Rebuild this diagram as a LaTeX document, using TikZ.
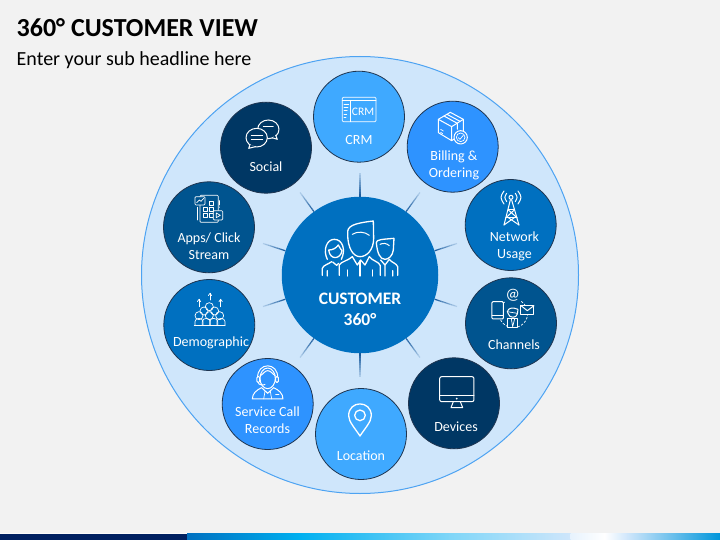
\documentclass[tikz,border=0pt]{standalone}
\usepackage{fontspec}
\setmainfont{Carlito}
\usetikzlibrary{calc}
\definecolor{pagebg}{HTML}{F2F2F2}
\definecolor{discfill}{HTML}{CFE6FB}
\definecolor{discline}{HTML}{4DA3F2}
\definecolor{cnavy}{HTML}{003764}
\definecolor{cdeep}{HTML}{00548F}
\definecolor{cmid}{HTML}{0070C0}
\definecolor{cbright}{HTML}{2E93FF}
\definecolor{csky}{HTML}{3FA9FF}
\definecolor{rimcol}{HTML}{1F3550}
\definecolor{spokedark}{HTML}{1B5C9E}
\definecolor{footnavy}{HTML}{002060}
\definecolor{footsky}{HTML}{00B0F0}
\definecolor{footlight}{HTML}{7FD6F8}
\definecolor{footend}{HTML}{0096DB}
\tikzset{
  disc/.style={circle,draw=discline,fill=discfill,line width=1pt,minimum size=437pt,inner sep=0pt},
  hubdisc/.style={circle,fill=cmid,minimum size=156.5pt,inner sep=0pt},
  sat/.style={circle,draw=rimcol,line width=.8pt,minimum size=91pt,inner sep=0pt},
  lab/.style={text=white,align=center,inner sep=0pt,yshift=-1pt,font=\fontsize{14}{17}\selectfont},
  icon/.style={draw=white,line width=1pt,line cap=round,line join=round},
  thin icon/.style={icon,line width=.7pt},
}
\newcommand{\barpart}[4]{\shade[left color=#3,right color=#4] (#1,533.6) rectangle (#2,540);}
\begin{document}
\begin{tikzpicture}[x=1pt,y=-1pt]
\useasboundingbox (0,0) rectangle (720,540);
\fill[pagebg] (0,0) rectangle (720,540);
% footer band
\fill[white,opacity=.7] (0,532.6) rectangle (388,533.6);
\fill[footnavy] (0,533.6) rectangle (187.5,540);
\barpart{187}{300}{cmid}{footsky}
\barpart{299.5}{450}{footsky}{footlight}
\barpart{449.5}{571}{footlight}{discfill}
\barpart{570.5}{605}{discfill!50!white}{white}
\barpart{604.5}{628}{white}{discfill}
\barpart{627.5}{720}{discfill}{footend}
% title
\node[anchor=base west,inner sep=0pt,font=\bfseries\fontsize{26}{30}\selectfont] (title) at (16.5,36.5) {360° CUSTOMER VIEW};
\node[anchor=base west,inner sep=0pt,font=\fontsize{20}{24}\selectfont] (subtitle) at (16.5,65.5) {Enter your sub headline here};
% disc
\node[disc] (outer) at (360,275) {};
\node[hubdisc] (hub) at (360,275) {};
% spokes
\foreach \a in {90,54,18,-18,-54,-90,-126,-162,162,126}{
  \coordinate (e\a) at ($(hub)+(\a:102pt)$);
  \foreach \i [evaluate=\i as \s using \i/10, evaluate=\i as \t using (\i+1)/10, evaluate=\i as \p using 100-\i*9] in {0,...,9}
    \draw[spokedark!\p!discfill,line width=1.2pt] ($(hub.\a)!\s!(e\a)$) -- ($(hub.\a)!\t!(e\a)$);
}
% satellites
\node[sat,fill=csky]    (crm)  at (359,116.7) {};
\node[sat,fill=cbright] (bill) at (452.7,146.7) {};
\node[sat,fill=cmid]    (net)  at (510.7,225) {};
\node[sat,fill=cdeep]   (chan) at (511,323.3) {};
\node[sat,fill=cnavy]   (dev)  at (454,403.3) {};
\node[sat,fill=csky]    (loc)  at (361,434) {};
\node[sat,fill=cbright] (serv) at (267.7,404) {};
\node[sat,fill=cmid]    (demo) at (209.3,325) {};
\node[sat,fill=cdeep]   (apps) at (209,227.3) {};
\node[sat,fill=cnavy]   (soc)  at (266,147.7) {};
% labels
\node[lab] (lcrm) at (359,139) {CRM};
\node[lab] (lbill) at (454,164.3) {Billing \&\\Ordering};
\node[lab] (lnet) at (514.5,245.3) {Network\\Usage};
\node[lab] (lchan) at (514,343.3) {Channels};
\node[lab] (ldev) at (456,425.3) {Devices};
\node[lab] (lloc) at (361,454.7) {Location};
\node[lab] (lserv) at (267.5,418.8) {Service Call\\Records};
\node[lab] (ldemo) at (211,341.8) {Demographic};
\node[lab] (lapps) at (209,245) {Apps/ Click\\Stream};
\node[lab] (lsoc) at (266,165.3) {Social};
\node[text=white,align=center,inner sep=0pt,font=\bfseries\fontsize{17.5}{21}\selectfont] (lhub) at (360,309) {CUSTOMER\\360°};
% --- icon: hub people
\begin{scope}[shift={(270,200)},x=.3333pt,y=-.3333pt]
 \draw[icon,line width=1.3pt] (233,102) .. controls (230,78) and (250,70) .. (310,63) -- (311,115) .. controls (311,150) and (290,170) .. (270,170) .. controls (250,170) and (233,145) .. (233,102);
 \draw[icon] (247,103) .. controls (262,93) and (285,95) .. (298,106);
 \draw[icon,line width=1.3pt] (208,226) -- (208,195) .. controls (212,185) and (235,182) .. (247,170) -- (262,195) -- (272,180) -- (285,195) -- (298,170) .. controls (305,182) and (328,185) .. (331,197) -- (331,226);
 \draw[icon,line width=1.3pt] (270,183) -- (270,228) (232,210) -- (232,228) (308,210) -- (308,228);
 % woman
 \draw[icon,line width=1.3pt] (172,178) .. controls (158,150) and (170,118) .. (193,118) .. controls (218,118) and (228,150) .. (214,178);
 \draw[icon,line width=1.3pt] (176,150) .. controls (188,150) and (198,145) .. (205,135) .. controls (210,145) and (214,150) .. (216,152) .. controls (212,178) and (180,182) .. (176,150);
 \draw[icon,line width=1.3pt] (157,226) -- (157,205) .. controls (160,195) and (175,193) .. (185,185) (172,212) -- (172,228);
 \draw[icon,line width=1.3pt] (188,186) -- (200,196) -- (206,190);
 % right man
 \draw[icon,line width=1.3pt] (319,128) .. controls (318,118) and (340,118) .. (372,115) -- (370,150) .. controls (368,168) and (355,178) .. (345,178) .. controls (330,178) and (322,160) .. (319,128);
 \draw[icon] (330,133) .. controls (340,128) and (350,130) .. (358,137);
 \draw[icon,line width=1.3pt] (332,180) -- (345,195) -- (358,178) .. controls (365,188) and (380,190) .. (383,200) -- (383,226) (345,195) -- (345,228) (368,212) -- (368,228);
\end{scope}
% --- icon: CRM
\begin{scope}[shift={(210,60)},x=.3333pt,y=-.3333pt]
 \draw[thin icon,rounded corners=1pt] (397,112) rectangle (498,185);
 \draw[thin icon] (420,122) -- (420,185) (397,122) -- (498,122);
 \draw[thin icon] (402,132) -- (416,132) (402,142) -- (414,142) (402,152) -- (412,152) (402,162) -- (410,162) (402,172) -- (408,172);
 \node[inner sep=0pt,text=white,font=\fontsize{11.5}{12}\selectfont] (tcrm) at (459,154) {CRM};
\end{scope}
% --- icon: Social
\begin{scope}[shift={(210,60)},x=.3333pt,y=-.3333pt]
 \draw[icon,fill=cnavy] (175,208) ellipse [x radius=32,y radius=28];
 \draw[icon,fill=cnavy] (186,233) -- (202,238) -- (197,226);
 \draw[thin icon] (160,198) -- (190,198);
 \draw[icon,fill=cnavy] (140,233) ellipse [x radius=32,y radius=28];
 \draw[icon,fill=cnavy] (120,254) -- (116,265) -- (136,260);
 \draw[thin icon] (124,227) -- (158,227) (124,238) -- (158,238);
\end{scope}
% --- icon: Billing
\begin{scope}[shift={(400,90)},x=.3333pt,y=-.3333pt]
 \draw[icon] (151,67) -- (190,88) -- (190,128) -- (155,152) -- (115,128) -- (115,88) -- cycle;
 \draw[icon] (115,88) -- (155,110) -- (190,88) (155,110) -- (155,152);
 \draw[icon] (132,78) -- (172,100) -- (172,118) (141,73) -- (180,94);
 \draw[thin icon] (122,118) -- (130,123) (122,127) -- (128,131);
 \draw[icon,fill=cbright] (182,142) circle (20);
 \draw[thin icon] (182,142) circle (13);
 \draw[thin icon] (175,143) -- (180,148) -- (190,136);
\end{scope}
% --- icon: Network
\begin{scope}[shift={(400,90)},x=.3333pt,y=-.3333pt]
 \draw[icon] (333,322) circle (6);
 \draw[icon] (320,310) .. controls (313,322) .. (320,335) (346,310) .. controls (353,322) .. (346,335);
 \draw[icon] (312,303) .. controls (300,322) .. (312,342) (354,303) .. controls (366,322) .. (354,342);
 \draw[icon] (331,330) -- (312,405) (335,330) -- (357,405);
 \draw[icon] (325,360) -- (343,360) (318,383) -- (351,383);
 \draw[icon] (312,405) -- (343,383) (357,405) -- (325,383) (318,383) -- (343,360) (351,383) -- (325,360);
\end{scope}
% --- icon: Channels
\begin{scope}[shift={(400,270)},x=.3333pt,y=-.3333pt]
 \draw[thin icon,dash pattern=on 2pt off 2pt] (340,130) circle (43);
 \draw[icon,fill=cdeep,rounded corners=1pt] (276,95) rectangle (310,147);
 \draw[thin icon] (276,135) -- (310,135);
 \node[inner sep=.5pt,fill=cdeep,text=white,font=\fontsize{16}{16}\selectfont] (tat) at (338,75) {@};
 \draw[icon,fill=cdeep] (363,107) rectangle (402,133);
 \draw[icon] (363,107) -- (382,122) -- (402,107);
 \draw[icon,fill=cdeep] (323,145) rectangle (353,172);
 \draw[icon,fill=cdeep] (322,125) .. controls (325,112) and (340,112) .. (354,118) -- (352,132) .. controls (350,145) and (328,145) .. (325,132) -- cycle;
 \draw[thin icon] (322,125) -- (352,130) (334,146) -- (338,170) -- (344,146);
\end{scope}
% --- icon: Devices
\begin{scope}[shift={(400,270)},x=.3333pt,y=-.3333pt]
 \draw[icon,rounded corners=2pt] (119,320) rectangle (222,395);
 \draw[icon] (119,378) -- (222,378);
 \draw[icon] (160,395) -- (153,413) -- (188,413) -- (181,395);
 \fill[white] (170,386) circle (3);
\end{scope}
% --- icon: Location
\begin{scope}[shift={(215,350)},x=.3333pt,y=-.3333pt]
 \draw[icon,line width=1.3pt] (435,258) .. controls (420,235) and (401,215) .. (401,197) .. controls (401,150) and (469,150) .. (469,197) .. controls (469,215) and (450,235) .. (435,258) -- cycle;
 \draw[icon,line width=1.3pt] (435,196) circle (16);
\end{scope}
% --- icon: Service
\begin{scope}[shift={(215,350)},x=.3333pt,y=-.3333pt]
 \draw[icon] (158,85) ellipse [x radius=23,y radius=31];
 \draw[icon] (135,78) .. controls (145,72) and (150,62) .. (158,62) .. controls (168,62) and (172,72) .. (181,78);
 \draw[icon] (128,85) .. controls (125,35) and (191,35) .. (188,85);
 \draw[icon,fill=cbright,rounded corners=1pt] (126,80) rectangle (134,97);
 \draw[icon,fill=cbright,rounded corners=1pt] (182,80) rectangle (190,97);
 \draw[icon] (130,97) .. controls (130,104) and (140,106) .. (150,104);
 \draw[icon] (112,147) .. controls (112,130) and (125,120) .. (140,113) -- (158,130) -- (176,113) .. controls (191,120) and (204,130) .. (204,147) -- cycle;
 \draw[thin icon] (150,124) -- (146,147) (166,124) -- (170,147) (152,124) -- (158,130) -- (164,124);
 \draw[thin icon] (182,132) -- (192,132);
\end{scope}
% --- icon: Demographic
\begin{scope}[shift={(150,180)},x=.3333pt,y=-.3333pt]
 \foreach \u/\v in {178/380,162/393,194/393,147/407,178/407,209/407}
   \draw[thin icon] (\u,\v) circle (12);
 \foreach \u in {147,169,191,213}{
   \draw[thin icon] (\u-12,437) -- (\u-12,425) .. controls (\u-12,412) and (\u+12,412) .. (\u+12,425) -- (\u+12,437);
 }
 \draw[thin icon] (133,437) -- (225,437);
 \foreach \u/\v/\w in {147/380/358,180/360/340,212/380/358}{
   \draw[thin icon] (\u,\v) -- (\u,\w);
   \draw[thin icon] (\u-5,\w+7) -- (\u,\w) -- (\u+5,\w+7);
 }
\end{scope}
% --- icon: Apps
\begin{scope}[shift={(150,180)},x=.3333pt,y=-.3333pt]
 \draw[thin icon,rounded corners=1pt] (150,46) rectangle (205,127);
 \foreach \u/\v in {160/82,178/82,160/100,178/100,178/64}
   \draw[thin icon] (\u,\v) rectangle (\u+12,\v+12);
 \draw[thin icon,fill=cdeep,rounded corners=1pt] (135,50) rectangle (165,75);
 \draw[thin icon] (140,68) -- (148,60) -- (153,64) -- (161,55);
 \draw[thin icon,fill=cdeep,rounded corners=1pt] (190,92) rectangle (218,120);
 \draw[thin icon] (199,99) -- (199,113) -- (211,106) -- cycle;
 \draw[thin icon] (143,82) -- (143,120);
 \draw[thin icon] (209,62) -- (209,75) (209,81) -- (209,82);
\end{scope}
\end{tikzpicture}
\end{document}
